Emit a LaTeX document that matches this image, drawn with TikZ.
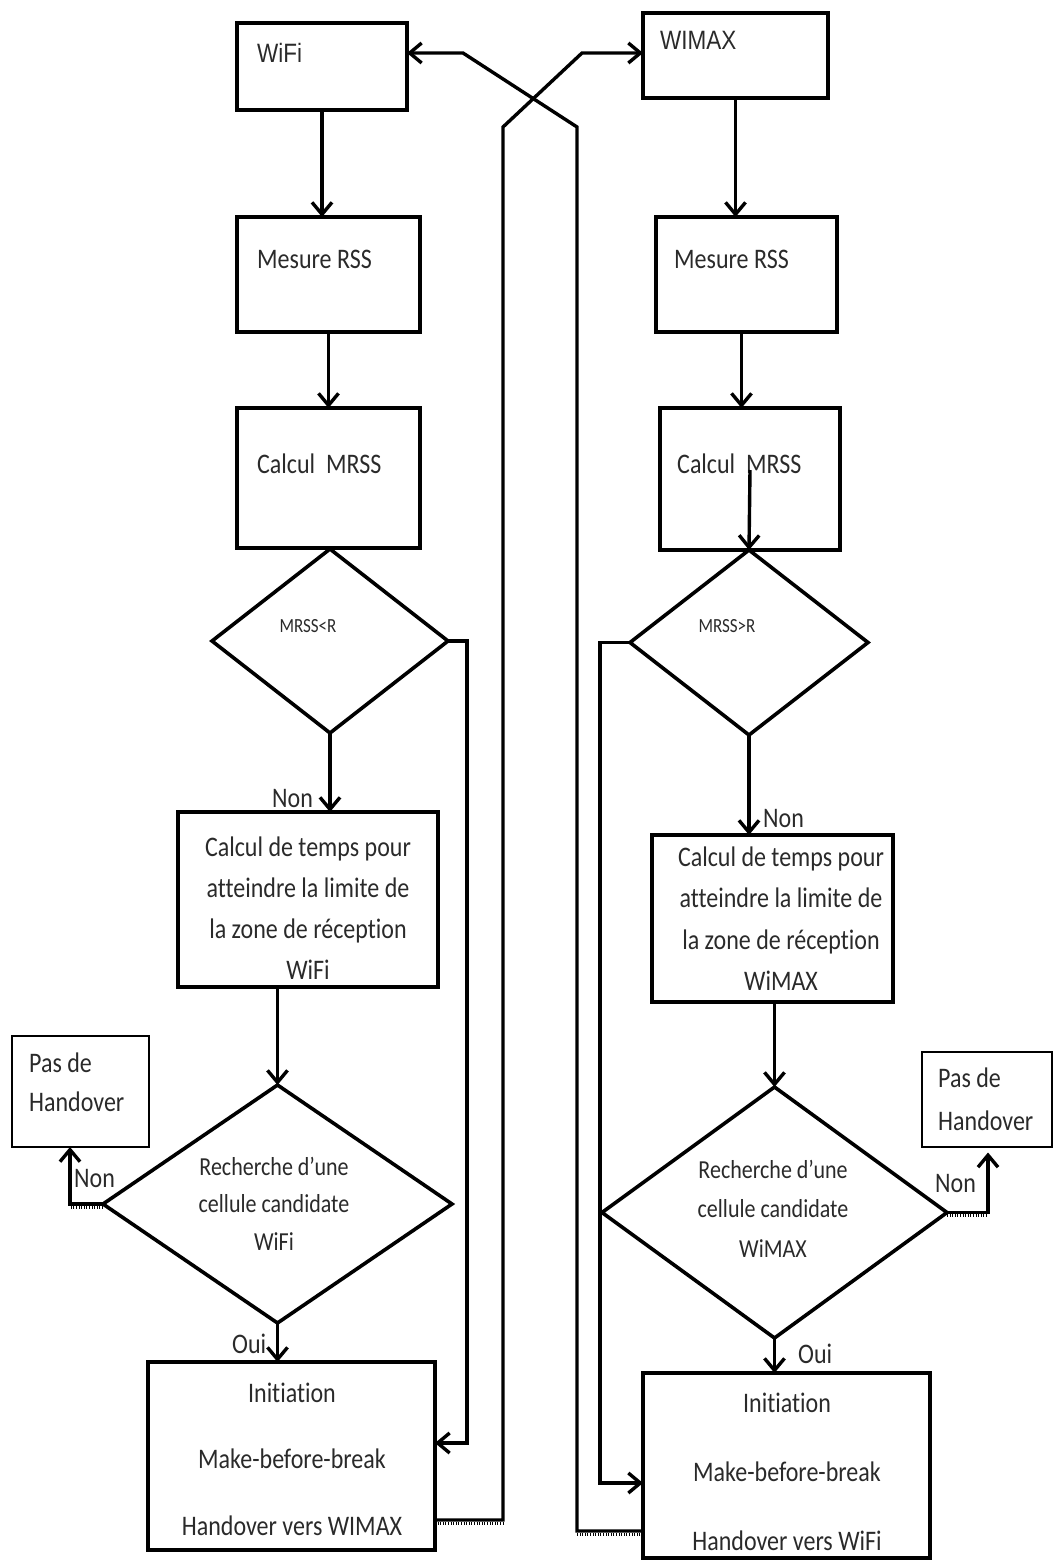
\documentclass[tikz,border=0pt]{standalone}
\usepackage{fontspec}
\setmainfont{Carlito}[Ligatures={NoCommon}]
\newfontfamily\arialfont{Liberation Sans}
\usepackage{graphicx}
\usetikzlibrary{arrows.meta,shapes.geometric}
\definecolor{ink}{HTML}{2A2A2A}
% text in the chart is set slightly taller than wide
\newcommand\vtxt[1]{\scalebox{1}[1.18]{#1}}

\begin{document}
\begin{tikzpicture}[x=1pt,y=-1pt,
  box/.style={draw, line width=3.6pt, rectangle, inner sep=0pt, outer sep=0pt},
  thinbox/.style={draw, line width=1.8pt, rectangle, inner sep=0pt, outer sep=0pt},
  decision/.style={draw, line width=3.6pt, diamond, inner sep=0pt, outer sep=0pt},
  flow/.style={line width=3.4pt, line join=miter, -{Straight Barb[length=12pt,width=20pt]}},
  comb/.style={line width=3pt, dash pattern=on 1pt off 1.6pt},
  txt/.style={text=ink, font=\fontsize{24}{28}\selectfont, inner sep=0pt},
  midtxt/.style={text=ink, font=\fontsize{22}{26}\selectfont, inner sep=0pt},
  small/.style={text=ink, font=\fontsize{17}{20}\selectfont, inner sep=0pt},
  head/.style={text=ink, font=\arialfont\fontsize{22.5}{26}\selectfont, inner sep=0pt},
]
\useasboundingbox (0,0) rectangle (1054,1563);

% ---------- left column (WiFi) ----------
\node[box, minimum width=170pt, minimum height=87pt]  (wifi)   at (322,66.5) {};
\node[box, minimum width=183pt, minimum height=115pt] (mesL)   at (328.5,274.5) {};
\node[box, minimum width=183pt, minimum height=140pt] (calL)   at (328.5,478) {};
\node[decision, minimum width=236pt, minimum height=184pt] (dL) at (330,641) {};
\node[box, minimum width=260pt, minimum height=175pt] (tempsL) at (308,899.5) {};
\node[decision, minimum width=349pt, minimum height=238pt] (rL) at (277.5,1204) {};
\node[thinbox, minimum width=137pt, minimum height=111pt] (pasL) at (80.5,1091.5) {};
\node[box, minimum width=287pt, minimum height=188pt] (initL)  at (291.5,1456) {};

% ---------- right column (WiMAX) ----------
\node[box, minimum width=185pt, minimum height=85pt]  (wimax)  at (735.5,55.5) {};
\node[box, minimum width=181pt, minimum height=115pt] (mesR)   at (746.5,274.5) {};
\node[box, minimum width=180pt, minimum height=142pt] (calR)   at (750,479) {};
\node[decision, minimum width=238pt, minimum height=185pt] (dR) at (749,642.5) {};
\node[box, minimum width=241pt, minimum height=167pt] (tempsR) at (772.5,918.5) {};
\node[decision, minimum width=345pt, minimum height=251pt] (rR) at (774.5,1212.5) {};
\node[thinbox, minimum width=130pt, minimum height=95pt] (pasR) at (987,1099.5) {};
\node[box, minimum width=287pt, minimum height=185pt] (initR)  at (786.5,1465.5) {};

% ---------- texts ----------
\node[head, anchor=base west] (wifiT)  at (257,63) {\vtxt{WiFi}};
\node[head, anchor=base west] (wimaxT) at (660,50) {\vtxt{WIMAX}};
\node[txt, anchor=base west] (mesLT) at (257,268) {\vtxt{Mesure RSS}};
\node[txt, anchor=base west] (mesRT) at (674,268) {\vtxt{Mesure RSS}};
\node[txt, anchor=base west] (calLT) at (257,473) {\vtxt{Calcul\ \ MRSS}};
\node[txt, anchor=base west] (calRT) at (677,473) {\vtxt{Calcul\ \ MRSS}};
\node[small, anchor=base] (dLT) at (308,632) {\vtxt{MRSS<R}};
\node[small, anchor=base] (dRT) at (727,632) {\vtxt{MRSS>R}};

\foreach \t [count=\i] in {Calcul de temps pour, atteindre la limite de, la zone de réception, WiFi}
  \node[txt, anchor=base] (tempsLT\i) at (308,{856+41*(\i-1)}) {\vtxt{\t}};
\foreach \t [count=\i] in {Calcul de temps pour, atteindre la limite de, la zone de réception, WiMAX}
  \node[txt, anchor=base] (tempsRT\i) at (781,{866+41.5*(\i-1)}) {\vtxt{\t}};

\foreach \t [count=\i] in {Recherche d’une, cellule candidate, WiFi}
  \node[midtxt, anchor=base] (rLT\i) at (274,{1175+37.5*(\i-1)}) {\vtxt{\t}};
\foreach \t [count=\i] in {Recherche d’une, cellule candidate, WiMAX}
  \node[midtxt, anchor=base] (rRT\i) at (773,{1178+39.5*(\i-1)}) {\vtxt{\t}};

\node[txt, anchor=base west] (pasLT1) at (29,1072)  {\vtxt{Pas de}};
\node[txt, anchor=base west] (pasLT2) at (29,1111)  {\vtxt{Handover}};
\node[txt, anchor=base west] (pasRT1) at (938,1087) {\vtxt{Pas de}};
\node[txt, anchor=base west] (pasRT2) at (938,1130) {\vtxt{Handover}};

\foreach \t [count=\i] in {Initiation, Make-before-break, Handover vers WIMAX}
  \node[txt, anchor=base] (initLT\i) at (292,{1402+66.5*(\i-1)}) {\vtxt{\t}};
\foreach \t [count=\i] in {Initiation, Make-before-break, Handover vers WiFi}
  \node[txt, anchor=base] (initRT\i) at (787,{1412+69*(\i-1)}) {\vtxt{\t}};

% branch labels
\node[txt, anchor=base west] (nonL)  at (272,807)  {\vtxt{Non}};
\node[txt, anchor=base west] (nonR)  at (763,827)  {\vtxt{Non}};
\node[txt, anchor=base west] (nonPL) at (74,1187)  {\vtxt{Non}};
\node[txt, anchor=base west] (nonPR) at (935,1192) {\vtxt{Non}};
\node[txt, anchor=base west] (ouiL)  at (232,1353) {\vtxt{Oui}};
\node[txt, anchor=base west] (ouiR)  at (798,1363) {\vtxt{Oui}};

% ---------- connectors, left column ----------
\draw[flow] (wifi.south) -- (wifi.south |- mesL.north);
\draw[flow] (mesL.south) -- (mesL.south |- calL.north);
\draw[flow] (dL.south) -- (dL.south |- tempsL.north);
\draw[flow] (rL.north |- tempsL.south) -- (rL.north);
\draw[flow] (rL.west) -- ++(-33,0) -| ([xshift=-10.5pt]pasL.south);
\draw[flow] (rL.south) -- (rL.south |- initL.north);
\draw[flow] (dL.east) -- ++(19,0) |- ([yshift=13pt]initL.east);

% ---------- connectors, right column ----------
\draw[flow] (wimax.south) -- (wimax.south |- mesR.north);
\draw[flow] ([xshift=-5pt]mesR.south) -- ([xshift=-5pt]mesR.south |- calR.north);
\draw[flow] ([yshift=9pt]calR.center) -- (dR.north);
\draw[flow] (dR.south) -- (dR.south |- tempsR.north);
\draw[flow] (rR.north |- tempsR.south) -- (rR.north);
\draw[flow] (rR.east) -- ++(41,0) -- ++(0,-60);
\draw[flow] (rR.south) -- (rR.south |- initR.north);
\draw[flow] (dR.west) -- ++(-30,0) |- ([yshift=-17.5pt]initR.west);

% ---------- crossing hand-over links ----------
\draw[flow] ([yshift=-64pt]initL.east) -- ++(68,0) -- ++(0,-1393) -- ++(79,-74)
  -- ([yshift=2.5pt]wimax.west);
\draw[flow] ([yshift=-65.5pt]initR.west) -- ++(-66,0) -- ++(0,-1404) -- ++(-114,-74)
  -- ([yshift=13.5pt]wifi.east);

% ---------- hatched marks under some horizontal runs ----------
\draw[comb] ([yshift=-3pt]rL.west) -- ++(-33,0);
\draw[comb] ([yshift=-3pt]rR.east) -- ++(41,0);
\draw[comb] ([yshift=-67pt]initL.east) -- ++(68,0);
\draw[comb] ([yshift=-68.5pt]initR.west) -- ++(-66,0);
\end{tikzpicture}
\end{document}
